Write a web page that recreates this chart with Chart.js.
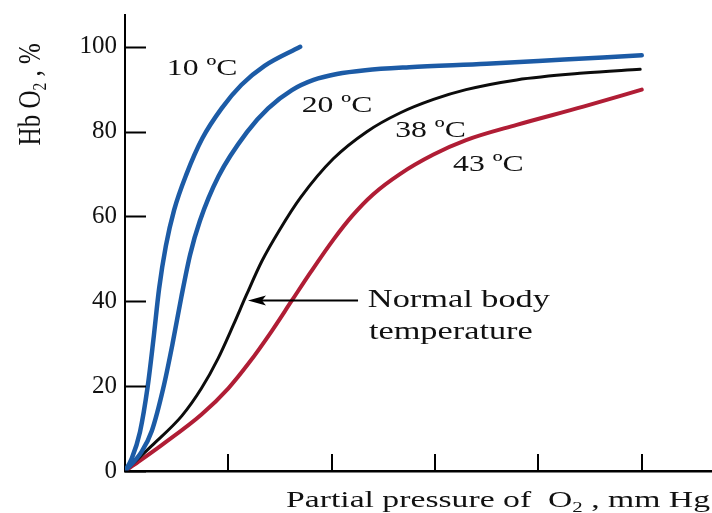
<!DOCTYPE html>
<html>
<head>
<meta charset="utf-8">
<script src="https://cdn.jsdelivr.net/npm/chart.js@4"></script>
<style>
html, body { margin: 0; padding: 0; background: #fff; }
#wrap { width: 712px; height: 513px; }
</style>
</head>
<body>
<div id="wrap"><canvas id="hbChart" width="712" height="513"></canvas></div>
<script>
// curvas: x = presión parcial O2 (mm Hg), y = % HbO2
const p10 = [0, 1.3, 2.9, 4.4, 5.5, 6.6, 7.9, 9.5, 11.9, 15.0, 18.7, 22.5, 27.0, 33.9];
const s10 = [0, 2.9, 9.2, 20, 31, 43, 53, 61.5, 70, 78.5, 85.5, 91, 95.5, 100];

const p20 = [0, 3.2, 5.2, 7.4, 9.2, 10.9, 12.6, 14.5, 18.1, 23.6, 27.7, 32.3, 36.5, 41, 46.5, 55, 70, 85, 100];
const s20 = [0, 4.5, 9.5, 19.5, 30, 41, 51, 59, 69.5, 79.9, 85.5, 89.8, 92.2, 93.6, 94.5, 95.2, 96, 97, 98];

const p38 = [0, 5.2, 11.0, 14.8, 18.0, 21.0, 23.5, 26.5, 30.0, 34.0, 40.3, 46.8, 53.2, 59.7, 66.0, 75.8, 88.7, 99.7];
const s38 = [0, 6, 13, 19.5, 26.5, 34.5, 41.5, 49.5, 57, 64.5, 73.6, 80, 84.4, 87.6, 89.9, 92.2, 93.8, 94.7];

const p43 = [0, 2.5, 7.1, 14.8, 20.0, 24.0, 28.4, 32.3, 36.0, 40.3, 44.0, 48.0, 53.2, 59.7, 66.0, 75.8, 88.7, 100];
const s43 = [0, 2.1, 6.1, 13.3, 19.5, 25.5, 33, 40.2, 47, 54.5, 60.2, 65.2, 70, 74.6, 78, 81.6, 85.9, 89.9];

const curveNames = ["10 ºC", "20 ºC", "38 ºC", "43 ºC"];
const xTicks = [20, 40, 60, 80, 100];
const yTicks = [0, 20, 40, 60, 80, 100];

const serif = '"Liberation Serif", "Times New Roman", serif';
const stretch = 1.32; // el texto original está ensanchado

const curves = [
  { p: p10, s: s10, color: "#1c5ba6", width: 4.5 },
  { p: p20, s: s20, color: "#1c5ba6", width: 4.5 },
  { p: p38, s: s38, color: "#0c0c0c", width: 3 },
  { p: p43, s: s43, color: "#b01d35", width: 4 }
];

// etiquetas sobre el gráfico (en coordenadas de datos, línea base)
const notes = [
  { text: "10 ºC", x: 8.1, y: 93.3, size: 24 },
  { text: "20 ºC", x: 34.2, y: 84.6, size: 24 },
  { text: "38 ºC", x: 52.3, y: 78.7, size: 24 },
  { text: "43 ºC", x: 63.5, y: 70.8, size: 24 },
  { text: "Normal body", x: 47.0, y: 38.6, size: 26 },
  { text: "temperature", x: 47.2, y: 31.2, size: 26 }
];

function richWidth(ctx, segs, size) {
  let w = 0;
  segs.forEach(sg => {
    ctx.font = (sg.sub ? size * 0.62 : size) + "px " + serif;
    w += ctx.measureText(sg.t).width;
  });
  return w;
}

function drawRich(ctx, segs, size) {
  let x = 0;
  segs.forEach(sg => {
    ctx.font = (sg.sub ? size * 0.62 : size) + "px " + serif;
    ctx.fillText(sg.t, x, sg.sub ? size * 0.2 : 0);
    x += ctx.measureText(sg.t).width;
  });
}

const annotPlugin = {
  id: "annot",
  afterDatasetsDraw(chart) {
    const ctx = chart.ctx;
    const xs = chart.scales.x, ys = chart.scales.y;
    const area = chart.chartArea;
    ctx.save();
    ctx.strokeStyle = "#000";
    ctx.fillStyle = "#111";

    // marcas hacia dentro
    ctx.lineWidth = 2;
    ys.ticks.forEach(t => {
      const py = Math.round(ys.getPixelForValue(t.value)) + 0.5;
      ctx.beginPath();
      ctx.moveTo(area.left, py);
      ctx.lineTo(area.left + 21, py);
      ctx.stroke();
    });
    xs.ticks.forEach(t => {
      const px = Math.round(xs.getPixelForValue(t.value));
      ctx.beginPath();
      ctx.moveTo(px, area.bottom);
      ctx.lineTo(px, area.bottom - 17);
      ctx.stroke();
    });

    // flecha "Normal body temperature"
    const ay = ys.getPixelForValue(40.2);
    const ax0 = xs.getPixelForValue(45.1), ax1 = xs.getPixelForValue(23.8);
    ctx.lineWidth = 2;
    ctx.beginPath();
    ctx.moveTo(ax0, ay);
    ctx.lineTo(ax1 + 12, ay);
    ctx.stroke();
    ctx.beginPath();
    ctx.moveTo(ax1, ay);
    ctx.lineTo(ax1 + 18, ay - 5);
    ctx.lineTo(ax1 + 14, ay);
    ctx.lineTo(ax1 + 18, ay + 5);
    ctx.closePath();
    ctx.fillStyle = "#000";
    ctx.fill();

    // textos
    ctx.fillStyle = "#111";
    ctx.textBaseline = "alphabetic";
    ctx.textAlign = "left";
    notes.forEach(n => {
      ctx.save();
      ctx.translate(xs.getPixelForValue(n.x), ys.getPixelForValue(n.y));
      ctx.scale(stretch, 1);
      ctx.font = n.size + "px " + serif;
      ctx.fillText(n.text, 0, 0);
      ctx.restore();
    });

    // título eje x
    const xTitle = [{ t: "Partial pressure of  O" }, { t: "2", sub: true }, { t: " , mm Hg" }];
    ctx.save();
    const wX = richWidth(ctx, xTitle, 24);
    const sxX = 424 / wX;
    ctx.translate(chart.width - 2 - wX * sxX, area.bottom + 36);
    ctx.scale(sxX, 1);
    drawRich(ctx, xTitle, 24);
    ctx.restore();

    // título eje y
    const yTitle = [{ t: "Hb O" }, { t: "2", sub: true }, { t: " , %" }];
    ctx.save();
    const wY = richWidth(ctx, yTitle, 25);
    ctx.translate(area.left - 85, ys.getPixelForValue(88.8));
    ctx.scale(1.28, 1);
    ctx.rotate(-Math.PI / 2);
    ctx.translate(-wY / 2, 0);
    drawRich(ctx, yTitle, 25);
    ctx.restore();

    ctx.restore();
  }
};

new Chart(document.getElementById("hbChart").getContext("2d"), {
  type: "line",
  data: {
    datasets: curves.map((c, k) => ({
      label: curveNames[k],
      data: c.p.map((x, i) => ({ x: x, y: c.s[i] })),
      borderColor: c.color,
      borderWidth: c.width,
      pointRadius: 0,
      fill: false,
      cubicInterpolationMode: "monotone",
      borderCapStyle: "round"
    }))
  },
  options: {
    responsive: false,
    animation: false,
    layout: { padding: { top: 15, right: 0, bottom: 0, left: 0 } },
    plugins: {
      legend: { display: false },
      tooltip: { enabled: false }
    },
    scales: {
      x: {
        type: "linear",
        min: 0,
        max: 113.6,
        grid: { display: false, drawTicks: false },
        border: { color: "#000", width: 2.5 },
        ticks: { display: false },
        afterBuildTicks: s => { s.ticks = xTicks.map(v => ({ value: v })); },
        afterFit: s => { s.height = 42; s.paddingLeft = 0; s.paddingRight = 0; }
      },
      y: {
        type: "linear",
        min: 0,
        max: 107.5,
        grid: { display: false, drawTicks: false },
        border: { color: "#000", width: 2 },
        ticks: {
          color: "#111",
          padding: 8,
          font: { family: serif, size: 25 }
        },
        afterBuildTicks: s => { s.ticks = yTicks.map(v => ({ value: v })); },
        afterFit: s => { s.width = 125; s.paddingTop = 0; s.paddingBottom = 0; }
      }
    }
  },
  plugins: [annotPlugin]
});
</script>
</body>
</html>
